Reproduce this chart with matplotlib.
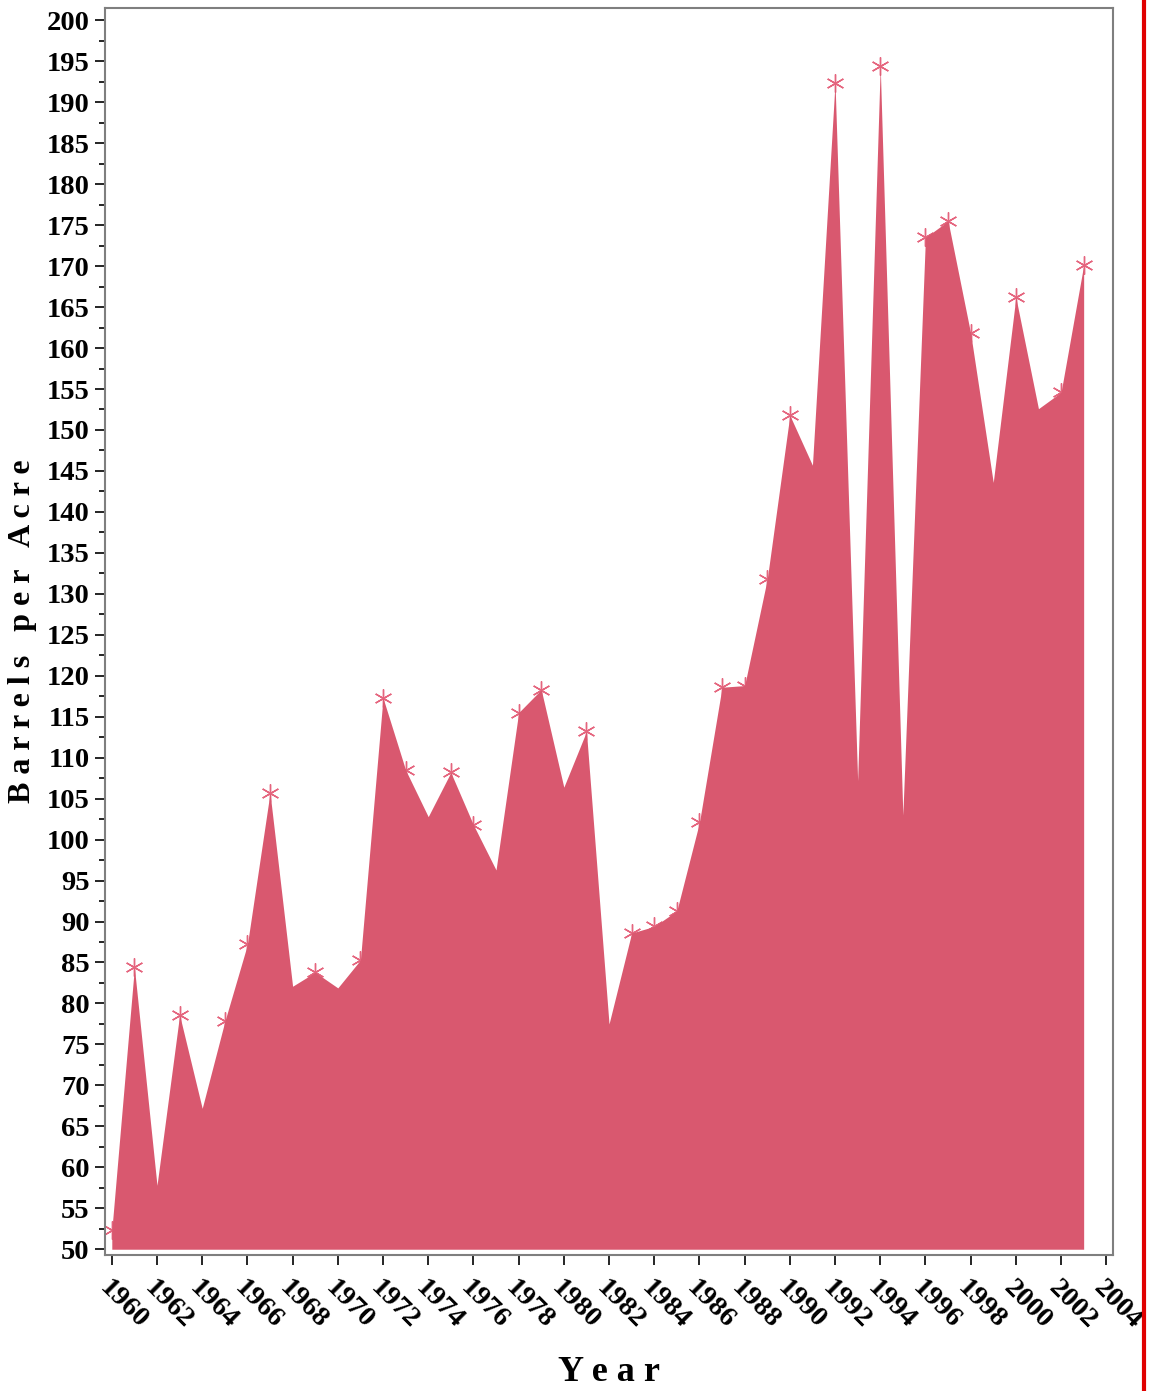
import numpy as np
import matplotlib.pyplot as plt
from matplotlib.lines import Line2D

# yearly values
years = list(range(1960, 2004))
barrels = [52.3, 84.4, 57.8, 78.6, 67.2, 77.8, 87.2, 105.7, 82.1, 83.8,
           81.9, 85.3, 117.3, 108.5, 102.8, 108.2, 101.8, 96.3, 115.5, 118.3,
           106.4, 113.2, 77.5, 88.6, 89.4, 91.3, 102.1, 118.6, 118.8, 131.8,
           151.8, 145.7, 192.4, 107.2, 194.4, 103.0, 173.5, 175.5, 161.8, 143.6,
           166.2, 152.6, 154.6, 170.1]

xticks = list(range(1960, 2005, 2))
yticks = list(range(50, 201, 5))

fill_color = "#D9586F"
marker_color = "#E5657E"
spine_color = "#7F7F7F"

plt.rcParams["font.family"] = ["Liberation Serif", "DejaVu Serif"]
plt.rcParams["font.weight"] = "bold"

fig = plt.figure(figsize=(11.49, 13.91), dpi=100)
ax = fig.add_axes([0.0914, 0.0978, 0.8773, 0.8964])

# markers sit under the fill; at the dips the fill hides them in the original
b = np.array(barrels)
dip = np.zeros(len(b), dtype=bool)
dip[1:-1] = (b[1:-1] < b[:-2]) & (b[1:-1] < b[2:])
mx = np.array(years)[~dip]
my = b[~dip]
ax.plot(mx, my, linestyle="none", marker=(6, 2, 0), markersize=13,
        markeredgewidth=1.0, color=marker_color, zorder=1)
ax.fill_between(years, 50, barrels, color=fill_color, linewidth=0, zorder=2)

ax.set_xlim(1959.7, 2004.3)
ax.set_ylim(49.3, 201.5)
ax.set_xticks(xticks)
ax.set_yticks(yticks)
ax.set_yticks(np.arange(52.5, 200, 5), minor=True)

ax.tick_params(axis="both", which="major", direction="out", length=7,
               width=1.2, color="black", labelsize=20.5)
ax.tick_params(axis="x", which="major", pad=8)
ax.tick_params(axis="y", which="major", pad=4)
ax.tick_params(axis="y", which="minor", direction="out", length=4,
               width=1.2, color="black")
for lab in ax.get_xticklabels():
    lab.set_rotation(-45)
    lab.set_ha("left")
    lab.set_va("top")
    lab.set_rotation_mode("anchor")
    lab.set_fontweight("bold")
for lab in ax.get_yticklabels():
    lab.set_fontweight("bold")

for sp in ax.spines.values():
    sp.set_color(spine_color)
    sp.set_linewidth(1.5)

ax.set_ylabel("B a r r e l s   p e r   A c r e", fontsize=23,
              fontweight="bold")
ax.yaxis.set_label_coords(-0.067, 0.5)
ax.set_xlabel("Y e a r", fontsize=26, fontweight="bold")
ax.xaxis.set_label_coords(0.5, -0.081)

# red border line on the right edge
fig.add_artist(Line2D([0.9956, 0.9956], [0, 1], color="#E00000",
                      linewidth=3, transform=fig.transFigure))

fig.savefig("out.png", dpi=100)
